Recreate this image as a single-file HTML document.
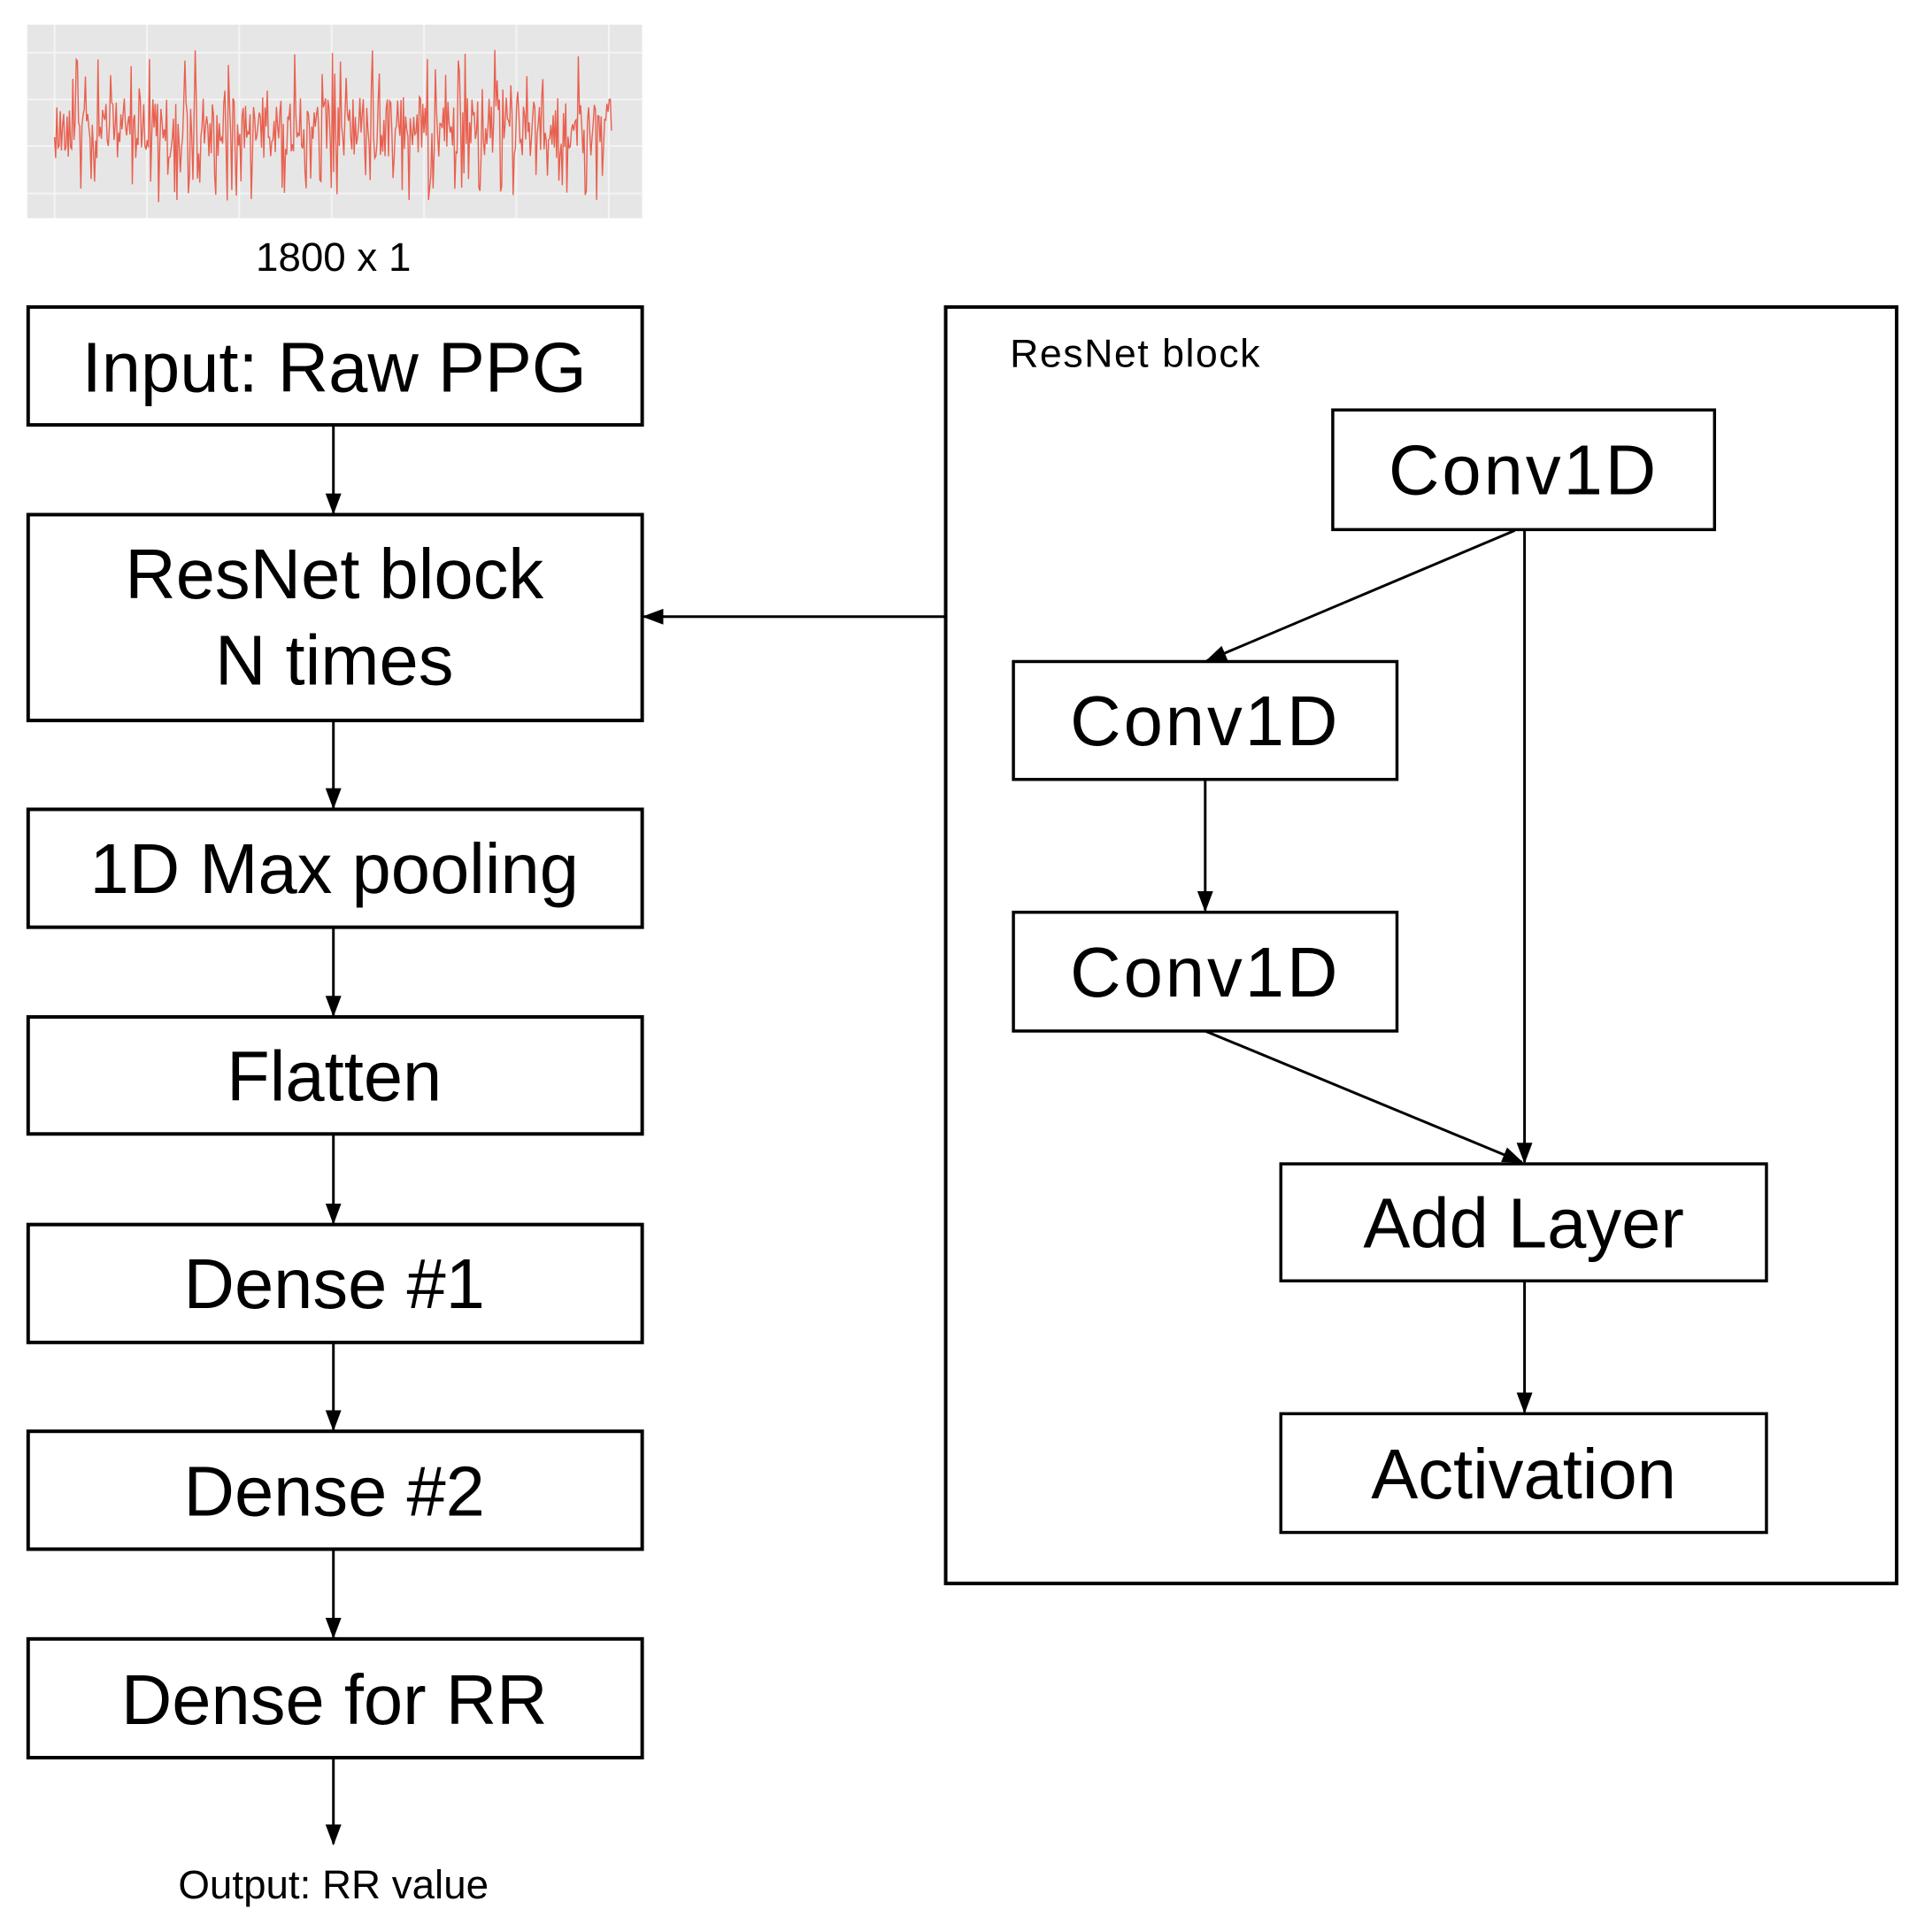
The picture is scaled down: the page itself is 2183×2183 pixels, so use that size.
<!DOCTYPE html>
<html><head><meta charset="utf-8"><style>
html,body{margin:0;padding:0;background:#fff}
svg{display:block}
text{font-family:"Liberation Sans",Arial,sans-serif;fill:#000}
</style></head><body>
<svg id="s" width="2183" height="2183" viewBox="0 0 2183 2183" xmlns="http://www.w3.org/2000/svg">
<defs>
<marker id="a2" markerWidth="24" markerHeight="24" refX="22" refY="12" orient="auto" markerUnits="userSpaceOnUse" viewBox="0 0 24 24">
<path d="M0,3 L24,12 L0,21 z" fill="#000"/></marker>
</defs>
<g transform="scale(0.994)">
<rect x="31" y="28" width="699" height="220" fill="#e6e6e6"/>
<g stroke="#f4f4f4" stroke-width="2">
<line x1="31" y1="60" x2="730" y2="60"/><line x1="31" y1="113" x2="730" y2="113"/><line x1="31" y1="166" x2="730" y2="166"/><line x1="31" y1="220" x2="730" y2="220"/>
<line x1="62" y1="28" x2="62" y2="248"/><line x1="167" y1="28" x2="167" y2="248"/><line x1="272" y1="28" x2="272" y2="248"/><line x1="377" y1="28" x2="377" y2="248"/><line x1="482" y1="28" x2="482" y2="248"/><line x1="587" y1="28" x2="587" y2="248"/><line x1="692" y1="28" x2="692" y2="248"/>
</g>
<polyline id="sig" fill="none" stroke="#e8604f" stroke-width="1.4" points=""/>
<text x="379" y="308" font-size="46" text-anchor="middle">1800 x 1</text>

<g fill="none" stroke="#000" stroke-width="4">
<rect x="32" y="349" width="698" height="134"/>
<rect x="32" y="585" width="698" height="234"/>
<rect x="32" y="920" width="698" height="134"/>
<rect x="32" y="1156" width="698" height="133"/>
<rect x="32" y="1392" width="698" height="134"/>
<rect x="32" y="1627" width="698" height="134"/>
<rect x="32" y="1863" width="698" height="135"/>
<rect x="1075" y="349" width="1081" height="1451"/>
</g>
<g fill="none" stroke="#000" stroke-width="3.5">
<rect x="1515" y="466" width="434" height="136"/>
<rect x="1152" y="752" width="436" height="134"/>
<rect x="1152" y="1037" width="436" height="135"/>
<rect x="1456" y="1323" width="552" height="133"/>
<rect x="1456" y="1607" width="552" height="135"/>
</g>
<g stroke="#000" stroke-width="3" marker-end="url(#a2)">
<line x1="379" y1="483" x2="379" y2="583"/>
<line x1="379" y1="819" x2="379" y2="918"/>
<line x1="379" y1="1054" x2="379" y2="1154"/>
<line x1="379" y1="1289" x2="379" y2="1390"/>
<line x1="379" y1="1526" x2="379" y2="1625"/>
<line x1="379" y1="1761" x2="379" y2="1861"/>
<line x1="379" y1="1998" x2="379" y2="2096"/>
<line x1="1075" y1="701" x2="732" y2="701"/>
<line x1="1722" y1="603" x2="1372" y2="751"/>
<line x1="1370" y1="886" x2="1370" y2="1035"/>
<line x1="1733" y1="603" x2="1733" y2="1321"/>
<line x1="1370" y1="1172" x2="1730" y2="1321"/>
<line x1="1733" y1="1456" x2="1733" y2="1605"/>
</g>
<g font-size="80" text-anchor="middle">
<text x="380" y="445">Input: Raw PPG</text>
<text x="380" y="680">ResNet block</text>
<text x="380" y="778">N times</text>
<text x="380" y="1015">1D Max pooling</text>
<text x="380" y="1251">Flatten</text>
<text x="380" y="1487">Dense #1</text>
<text x="380" y="1723">Dense #2</text>
<text x="380" y="1960">Dense for RR</text>
<text x="1732" y="562" letter-spacing="3">Conv1D</text>
<text x="1370" y="847" letter-spacing="3">Conv1D</text>
<text x="1370" y="1133" letter-spacing="3">Conv1D</text>
<text x="1732" y="1418">Add Layer</text>
<text x="1732" y="1703">Activation</text>
</g>
<text x="1148" y="417" font-size="45" letter-spacing="1.5">ResNet block</text>
<text x="379" y="2158" font-size="46" text-anchor="middle">Output: RR value</text>
</g>
<script>
(function(){var s=12345;function r(){s=(s*1103515245+12345)%2147483648;return s/2147483648;}
var p=[];for(var x=62;x<=696;x+=1.3){var y=145+(r()-0.5)*70;if(r()<0.1)y=55+r()*50;if(r()<0.1)y=195+r()*35;p.push(x.toFixed(1)+","+y.toFixed(1));}
document.getElementById("sig").setAttribute("points",p.join(" "));})();
</script>
</svg>
</body></html>
